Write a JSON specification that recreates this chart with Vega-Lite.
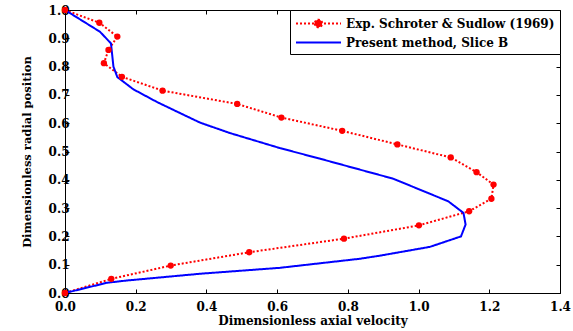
{
  "$schema": "https://vega.github.io/schema/vega-lite/v6.json",
  "width": 495,
  "height": 283,
  "autosize": {"type": "none"},
  "padding": {"left": 65, "top": 10, "right": 13, "bottom": 38},
  "background": "white",
  "config": {
    "view": {"stroke": "black", "strokeWidth": 1},
    "font": "DejaVu Serif",
    "axis": {
      "grid": false,
      "domainColor": "black",
      "tickColor": "black",
      "tickSize": -4,
      "labelFont": "DejaVu Serif",
      "labelFontWeight": "bold",
      "labelFontSize": 12,
      "labelColor": "black",
      "titleFont": "DejaVu Serif",
      "titleFontWeight": "bold",
      "titleFontSize": 12,
      "titleColor": "black"
    }
  },
  "data": {
    "values": [
      {"series": "Exp. Schroter & Sudlow (1969)", "order": 1, "x": 0.0, "y": 1.0},
      {"series": "Exp. Schroter & Sudlow (1969)", "order": 2, "x": 0.097, "y": 0.955},
      {"series": "Exp. Schroter & Sudlow (1969)", "order": 3, "x": 0.148, "y": 0.906},
      {"series": "Exp. Schroter & Sudlow (1969)", "order": 4, "x": 0.123, "y": 0.859},
      {"series": "Exp. Schroter & Sudlow (1969)", "order": 5, "x": 0.110, "y": 0.812},
      {"series": "Exp. Schroter & Sudlow (1969)", "order": 6, "x": 0.161, "y": 0.764},
      {"series": "Exp. Schroter & Sudlow (1969)", "order": 7, "x": 0.276, "y": 0.715},
      {"series": "Exp. Schroter & Sudlow (1969)", "order": 8, "x": 0.487, "y": 0.668},
      {"series": "Exp. Schroter & Sudlow (1969)", "order": 9, "x": 0.612, "y": 0.620},
      {"series": "Exp. Schroter & Sudlow (1969)", "order": 10, "x": 0.784, "y": 0.573},
      {"series": "Exp. Schroter & Sudlow (1969)", "order": 11, "x": 0.940, "y": 0.525},
      {"series": "Exp. Schroter & Sudlow (1969)", "order": 12, "x": 1.091, "y": 0.479},
      {"series": "Exp. Schroter & Sudlow (1969)", "order": 13, "x": 1.164, "y": 0.427},
      {"series": "Exp. Schroter & Sudlow (1969)", "order": 14, "x": 1.212, "y": 0.383},
      {"series": "Exp. Schroter & Sudlow (1969)", "order": 15, "x": 1.206, "y": 0.333},
      {"series": "Exp. Schroter & Sudlow (1969)", "order": 16, "x": 1.143, "y": 0.289},
      {"series": "Exp. Schroter & Sudlow (1969)", "order": 17, "x": 1.001, "y": 0.239},
      {"series": "Exp. Schroter & Sudlow (1969)", "order": 18, "x": 0.789, "y": 0.192},
      {"series": "Exp. Schroter & Sudlow (1969)", "order": 19, "x": 0.521, "y": 0.144},
      {"series": "Exp. Schroter & Sudlow (1969)", "order": 20, "x": 0.299, "y": 0.097},
      {"series": "Exp. Schroter & Sudlow (1969)", "order": 21, "x": 0.131, "y": 0.050},
      {"series": "Exp. Schroter & Sudlow (1969)", "order": 22, "x": 0.0, "y": 0.0},
      {"series": "Present method, Slice B", "order": 1, "x": 0.0, "y": 1.0},
      {"series": "Present method, Slice B", "order": 2, "x": 0.099, "y": 0.923},
      {"series": "Present method, Slice B", "order": 3, "x": 0.130, "y": 0.882},
      {"series": "Present method, Slice B", "order": 4, "x": 0.137, "y": 0.800},
      {"series": "Present method, Slice B", "order": 5, "x": 0.148, "y": 0.763},
      {"series": "Present method, Slice B", "order": 6, "x": 0.193, "y": 0.720},
      {"series": "Present method, Slice B", "order": 7, "x": 0.260, "y": 0.675},
      {"series": "Present method, Slice B", "order": 8, "x": 0.325, "y": 0.636},
      {"series": "Present method, Slice B", "order": 9, "x": 0.382, "y": 0.602},
      {"series": "Present method, Slice B", "order": 10, "x": 0.467, "y": 0.565},
      {"series": "Present method, Slice B", "order": 11, "x": 0.608, "y": 0.512},
      {"series": "Present method, Slice B", "order": 12, "x": 0.720, "y": 0.475},
      {"series": "Present method, Slice B", "order": 13, "x": 0.834, "y": 0.436},
      {"series": "Present method, Slice B", "order": 14, "x": 0.928, "y": 0.404},
      {"series": "Present method, Slice B", "order": 15, "x": 1.084, "y": 0.324},
      {"series": "Present method, Slice B", "order": 16, "x": 1.127, "y": 0.283},
      {"series": "Present method, Slice B", "order": 17, "x": 1.133, "y": 0.242},
      {"series": "Present method, Slice B", "order": 18, "x": 1.120, "y": 0.200},
      {"series": "Present method, Slice B", "order": 19, "x": 1.032, "y": 0.163},
      {"series": "Present method, Slice B", "order": 20, "x": 0.891, "y": 0.132},
      {"series": "Present method, Slice B", "order": 21, "x": 0.834, "y": 0.121},
      {"series": "Present method, Slice B", "order": 22, "x": 0.608, "y": 0.089},
      {"series": "Present method, Slice B", "order": 23, "x": 0.382, "y": 0.068},
      {"series": "Present method, Slice B", "order": 24, "x": 0.174, "y": 0.044},
      {"series": "Present method, Slice B", "order": 25, "x": 0.118, "y": 0.036},
      {"series": "Present method, Slice B", "order": 26, "x": 0.0, "y": 0.0}
    ]
  },
  "layer": [
    {
      "mark": {"type": "line", "strokeWidth": 2, "clip": true},
      "encoding": {
        "x": {
          "field": "x", "type": "quantitative",
          "scale": {"domain": [0, 1.4], "nice": false, "zero": false},
          "axis": {"title": "Dimensionless axial velocity", "values": [0, 0.2, 0.4, 0.6, 0.8, 1, 1.2, 1.4], "labelPadding": 12, "titlePadding": 3, "labelFlush": false, "labelFontWeight": "bold", "titleFontWeight": "bold"}
        },
        "y": {
          "field": "y", "type": "quantitative",
          "scale": {"domain": [0, 1], "nice": false, "zero": false},
          "axis": {"title": "Dimensionless radial position", "titleFontSize": 11.5, "values": [0, 0.1, 0.2, 0.3, 0.4, 0.5, 0.6, 0.7, 0.8, 0.9, 1], "labelPadding": 0, "titlePadding": 16, "labelFlush": false, "labelFontWeight": "bold", "titleFontWeight": "bold"}
        },
        "order": {"field": "order", "type": "quantitative"},
        "color": {
          "field": "series", "type": "nominal",
          "scale": {"domain": ["Exp. Schroter & Sudlow (1969)", "Present method, Slice B"], "range": ["#ff0000", "#0000ff"]},
          "legend": {
            "title": null,
            "orient": "top-right",
            "offset": 0,
            "strokeColor": "black",
            "fillColor": "white",
            "padding": 5,
            "rowPadding": 2,
            "symbolSize": 225,
            "symbolStrokeWidth": 2,
            "labelFont": "DejaVu Serif",
            "labelFontWeight": "bold",
            "labelFontSize": 12,
            "labelColor": "black",
            "labelLimit": 400,
            "labelOffset": 34,
            "encode": {
              "symbols": {
                "update": {
                  "shape": {"signal": "datum.value == 'Present method, Slice B' ? 'M-1,0L5,0' : 'M-1,0L5,0M1.5,0A0.5,0.5 0 1 0 2.5,0A0.5,0.5 0 1 0 1.5,0'"},
                  "fill": {"signal": "datum.value == 'Present method, Slice B' ? 'transparent' : '#ff0000'"},
                  "strokeDash": {"signal": "datum.value == 'Present method, Slice B' ? [1, 0] : [2, 2]"}
                }
              }
            }
          }
        },
        "strokeDash": {
          "field": "series", "type": "nominal",
          "scale": {"domain": ["Exp. Schroter & Sudlow (1969)", "Present method, Slice B"], "range": [[2, 2], [1, 0]]},
          "legend": null
        }
      }
    },
    {
      "transform": [{"filter": "datum.series == 'Exp. Schroter & Sudlow (1969)'"}],
      "mark": {"type": "point", "filled": true, "color": "#ff0000", "size": 40, "opacity": 1, "clip": false},
      "encoding": {
        "x": {"field": "x", "type": "quantitative", "scale": {"domain": [0, 1.4], "nice": false, "zero": false}, "axis": {"orient": "top", "labels": false, "title": null, "domain": false, "values": [0, 0.2, 0.4, 0.6, 0.8, 1, 1.2, 1.4]}},
        "y": {"field": "y", "type": "quantitative", "scale": {"domain": [0, 1], "nice": false, "zero": false}, "axis": {"orient": "right", "labels": false, "title": null, "domain": false, "values": [0, 0.1, 0.2, 0.3, 0.4, 0.5, 0.6, 0.7, 0.8, 0.9, 1]}}
      }
    }
  ],
  "resolve": {"axis": {"x": "independent", "y": "independent"}}
}
